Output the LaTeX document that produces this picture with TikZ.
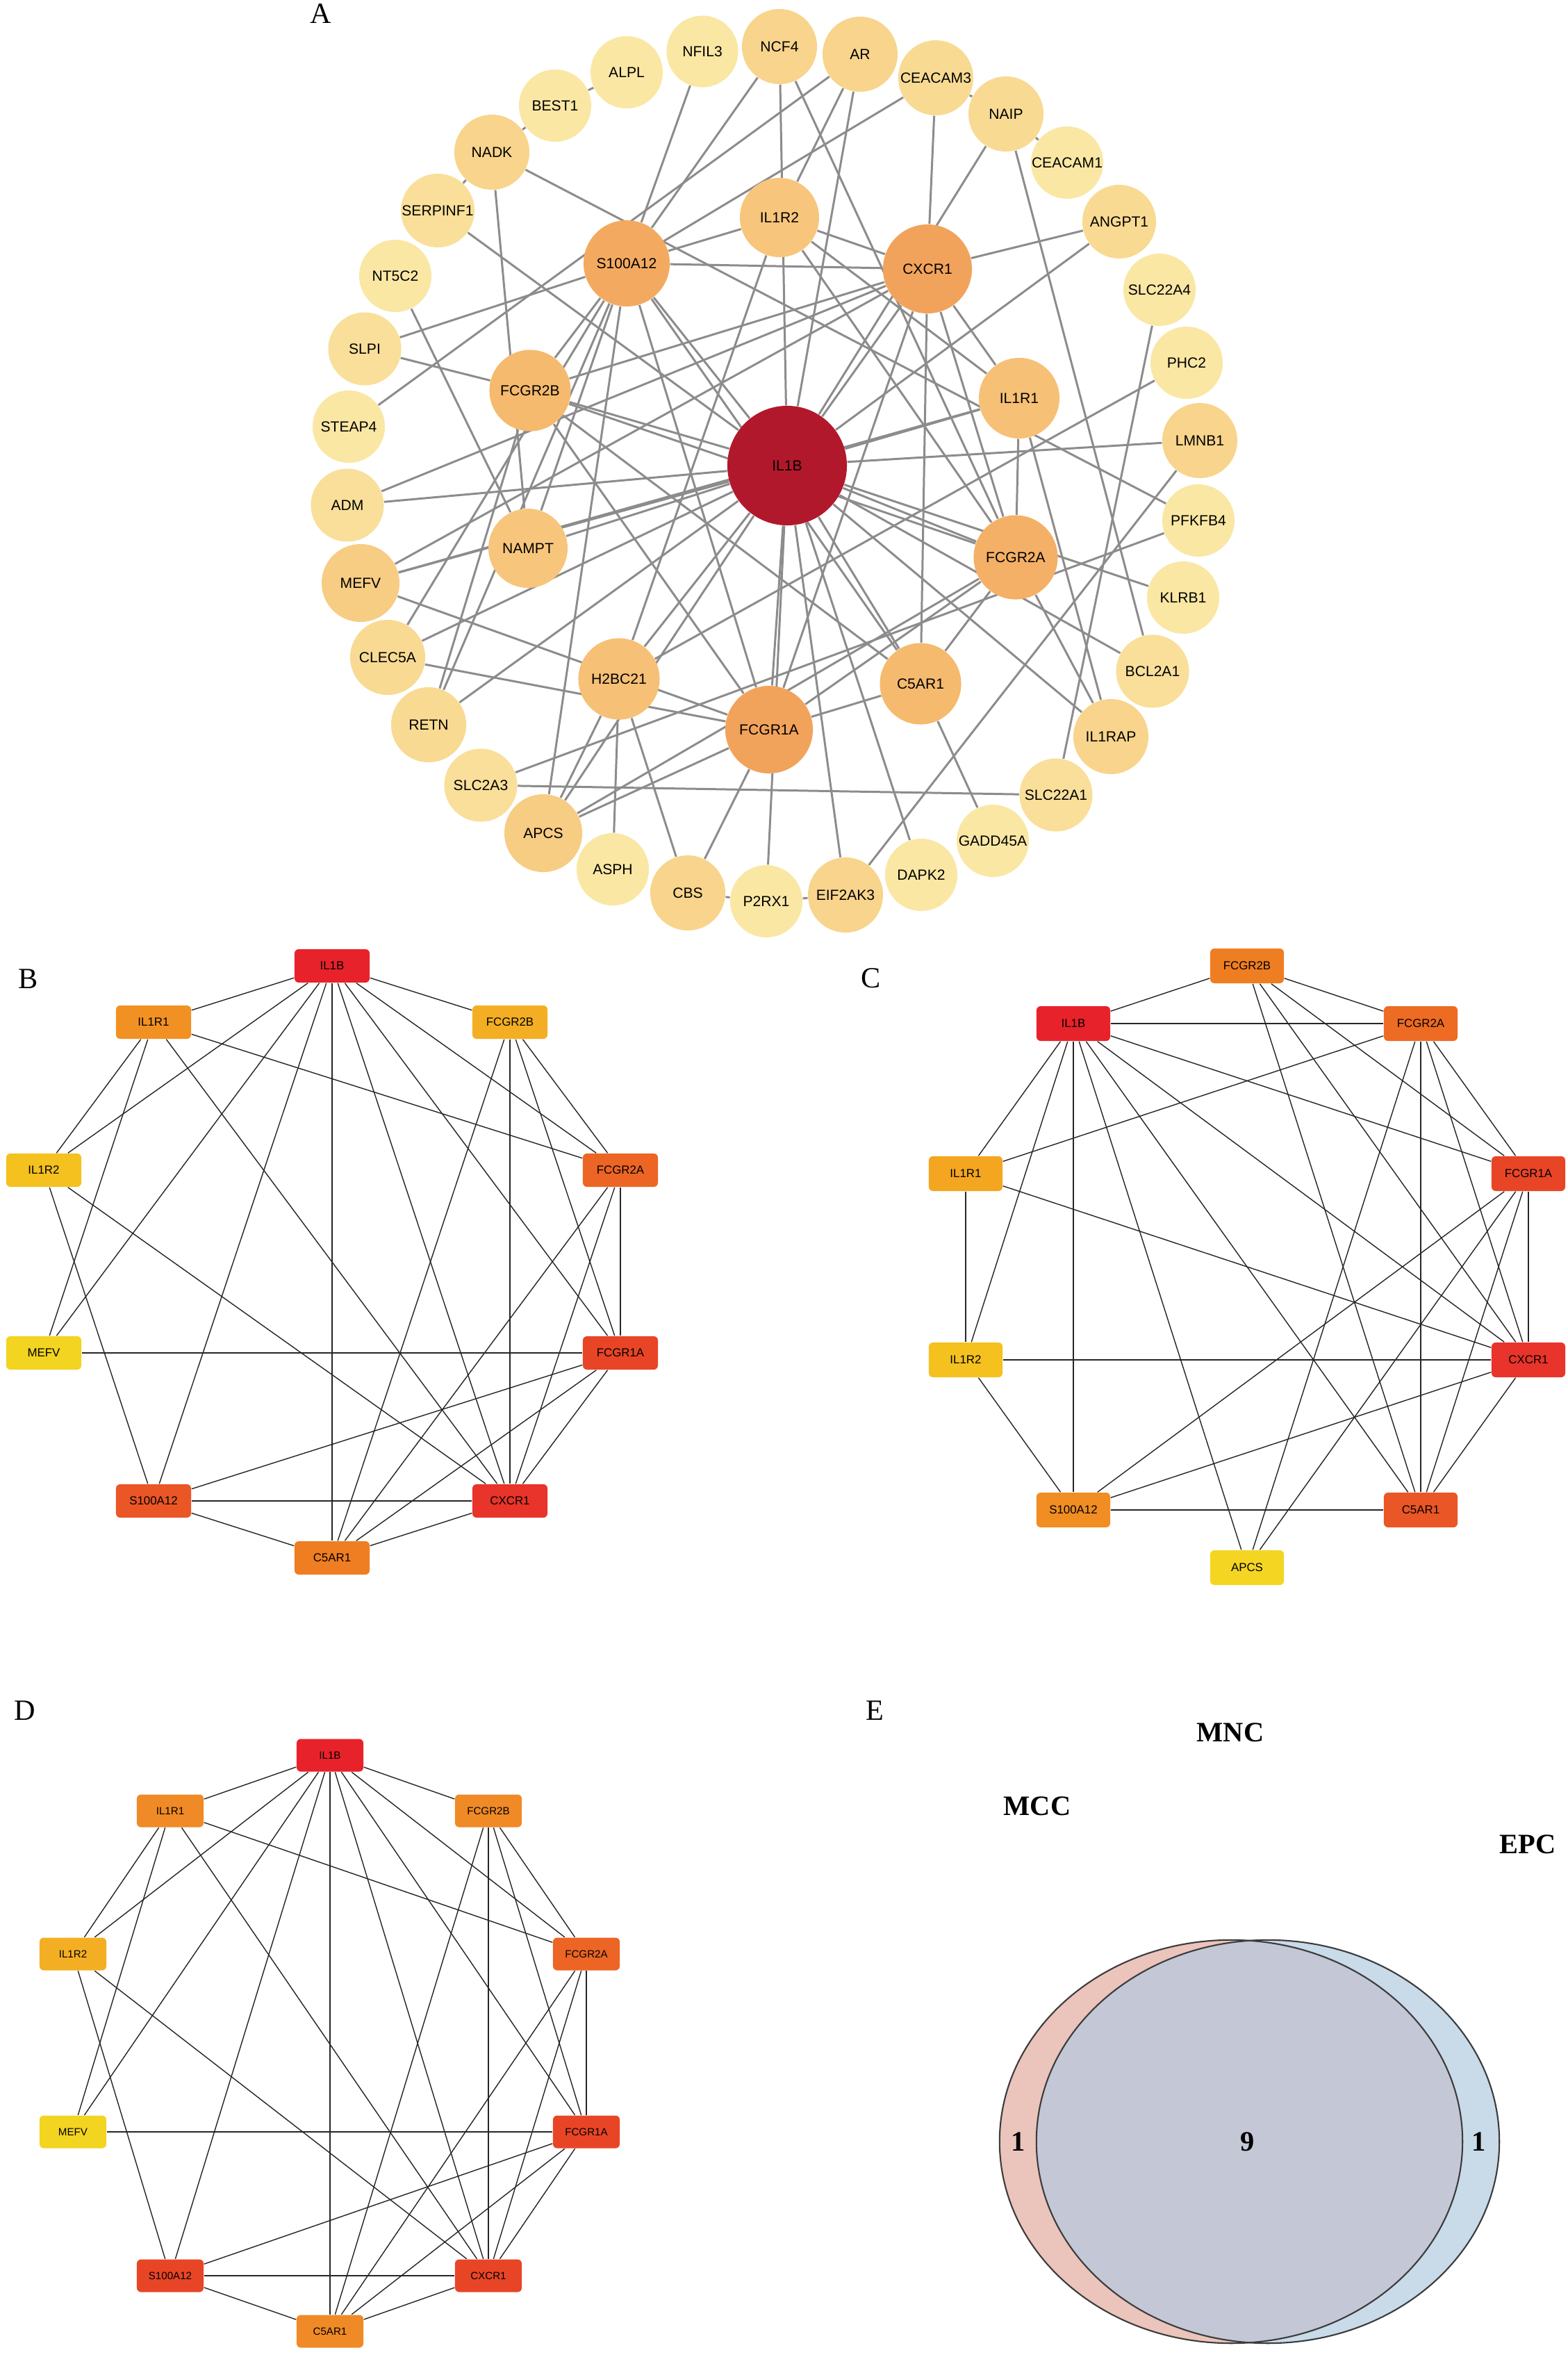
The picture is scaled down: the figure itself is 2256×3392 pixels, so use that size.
\documentclass[tikz,border=0pt]{standalone}
\usepackage{fontspec}
\setmainfont{Liberation Serif}
\newfontfamily\arial{Liberation Sans}
\pgfdeclarelayer{paper}
\pgfdeclarelayer{background}
\pgfsetlayers{paper,background,main}
\definecolor{edgegray}{HTML}{8C8C8C}
\definecolor{cHub}{HTML}{B2182B}
\definecolor{cA}{HTML}{F2A35B}
\definecolor{cB}{HTML}{F3AA60}
\definecolor{cC}{HTML}{F4B066}
\definecolor{cD}{HTML}{F5BA6E}
\definecolor{cE}{HTML}{F6C076}
\definecolor{cF}{HTML}{F7C67C}
\definecolor{cG}{HTML}{F7CC83}
\definecolor{cM}{HTML}{F8D48C}
\definecolor{cMM}{HTML}{F8DA93}
\definecolor{cML}{HTML}{F9DF9A}
\definecolor{cL}{HTML}{FAE7A4}
% box colours
\definecolor{kRed}{HTML}{E8222A}
\definecolor{kRed2}{HTML}{E8342A}
\definecolor{kRedO}{HTML}{E84527}
\definecolor{kOR1}{HTML}{EA5625}
\definecolor{kOR2}{HTML}{EC6524}
\definecolor{kOR3}{HTML}{EE6B23}
\definecolor{kOR4}{HTML}{EF7E22}
\definecolor{kOR5}{HTML}{F08A26}
\definecolor{kOR6}{HTML}{F29123}
\definecolor{kOR7}{HTML}{F18D23}
\definecolor{kYO1}{HTML}{F4A620}
\definecolor{kYO2}{HTML}{F4AE23}
\definecolor{kYO3}{HTML}{F4C11F}
\definecolor{kYel}{HTML}{F2D421}
\definecolor{kYel2}{HTML}{F4D622}
\definecolor{vred}{HTML}{EBC4BC}
\definecolor{vblue}{HTML}{C9DAE8}
\definecolor{vmid}{HTML}{C4C7D5}
\definecolor{vline}{HTML}{3C3C3C}
\tikzset{
  gn/.style 2 args={circle, inner sep=0pt, fill=#1, minimum size=#2, text=black,
    font=\arial\fontsize{6}{7}\selectfont},
  ae/.style={draw=edgegray, line width=0.85pt},
  bx/.style={rectangle, rounded corners=0.06cm, fill=#1, minimum width=1.08cm,
    minimum height=0.48cm, inner sep=0pt, text=black, font=\arial\fontsize{4.8}{5.5}\selectfont},
  cxb/.style={rectangle, rounded corners=0.06cm, fill=#1, minimum width=1.06cm,
    minimum height=0.50cm, inner sep=0pt, text=black, font=\arial\fontsize{4.8}{5.5}\selectfont},
  dxb/.style={rectangle, rounded corners=0.06cm, fill=#1, minimum width=0.96cm,
    minimum height=0.47cm, inner sep=0pt, text=black, font=\arial\fontsize{4.3}{5}\selectfont},
  be/.style={draw=black!85, line width=0.4pt},
  plabel/.style={inner sep=0pt, font=\fontsize{12}{14}\selectfont},
  vlabel/.style={inner sep=0pt, font=\bfseries\fontsize{11.5}{13}\selectfont},
}
\begin{document}
\begin{tikzpicture}[x=0.01cm,y=-0.01cm]
\useasboundingbox (0,0) rectangle (2256,3392);
\begin{pgfonlayer}{paper}
\fill[white] (0,0) rectangle (2256,3392);
\end{pgfonlayer}

% ---------------- Panel A ----------------
\node[plabel] (labA) at (462,20) {A};
\node[gn={cHub}{1.72cm}] (aIL1B) at (1133,670) {IL1B};
\node[gn={cA}{1.28cm}] (aCXCR1) at (1335,387) {CXCR1};
\node[gn={cA}{1.26cm}] (aFCGR1A) at (1107,1050) {FCGR1A};
\node[gn={cB}{1.24cm}] (aS100A12) at (902,379) {S100A12};
\node[gn={cC}{1.21cm}] (aFCGR2A) at (1462,802) {FCGR2A};
\node[gn={cD}{1.17cm}] (aFCGR2B) at (763,562) {FCGR2B};
\node[gn={cE}{1.16cm}] (aIL1R1) at (1467,573) {IL1R1};
\node[gn={cF}{1.14cm}] (aIL1R2) at (1122,313) {IL1R2};
\node[gn={cD}{1.17cm}] (aC5AR1) at (1325,984) {C5AR1};
\node[gn={cE}{1.17cm}] (aH2BC21) at (891,977) {H2BC21};
\node[gn={cF}{1.14cm}] (aNAMPT) at (760,789) {NAMPT};

\node[gn={cL}{1.03cm}] (aNFIL3) at (1011,74) {NFIL3};
\node[gn={cL}{1.04cm}] (aALPL) at (902,104) {ALPL};
\node[gn={cL}{1.04cm}] (aBEST1) at (799,152) {BEST1};
\node[gn={cM}{1.08cm}] (aNADK) at (708,219) {NADK};
\node[gn={cML}{1.06cm}] (aSERPINF1) at (630,303) {SERPINF1};
\node[gn={cL}{1.04cm}] (aNT5C2) at (569,397) {NT5C2};
\node[gn={cML}{1.05cm}] (aSLPI) at (525,502) {SLPI};
\node[gn={cL}{1.04cm}] (aSTEAP4) at (502,614) {STEAP4};
\node[gn={cML}{1.05cm}] (aADM) at (500,727) {ADM};
\node[gn={cG}{1.12cm}] (aMEFV) at (519,839) {MEFV};
\node[gn={cMM}{1.08cm}] (aCLEC5A) at (558,946) {CLEC5A};
\node[gn={cMM}{1.08cm}] (aRETN) at (617,1043) {RETN};
\node[gn={cML}{1.05cm}] (aSLC2A3) at (692,1130) {SLC2A3};
\node[gn={cG}{1.12cm}] (aAPCS) at (782,1199) {APCS};
\node[gn={cL}{1.04cm}] (aASPH) at (882,1251) {ASPH};
\node[gn={cM}{1.08cm}] (aCBS) at (990,1285) {CBS};
\node[gn={cL}{1.04cm}] (aP2RX1) at (1103,1297) {P2RX1};
\node[gn={cM}{1.08cm}] (aEIF2AK3) at (1217,1288) {EIF2AK3};
\node[gn={cL}{1.04cm}] (aDAPK2) at (1326,1259) {DAPK2};
\node[gn={cL}{1.04cm}] (aGADD45A) at (1429,1210) {GADD45A};
\node[gn={cML}{1.05cm}] (aSLC22A1) at (1520,1144) {SLC22A1};
\node[gn={cM}{1.08cm}] (aIL1RAP) at (1599,1060) {IL1RAP};
\node[gn={cML}{1.05cm}] (aBCL2A1) at (1659,966) {BCL2A1};
\node[gn={cL}{1.04cm}] (aKLRB1) at (1703,860) {KLRB1};
\node[gn={cL}{1.04cm}] (aPFKFB4) at (1725,749) {PFKFB4};
\node[gn={cM}{1.08cm}] (aLMNB1) at (1727,634) {LMNB1};
\node[gn={cL}{1.04cm}] (aPHC2) at (1708,522) {PHC2};
\node[gn={cL}{1.04cm}] (aSLC22A4) at (1669,417) {SLC22A4};
\node[gn={cMM}{1.06cm}] (aANGPT1) at (1611,319) {ANGPT1};
\node[gn={cL}{1.04cm}] (aCEACAM1) at (1536,234) {CEACAM1};
\node[gn={cMM}{1.08cm}] (aNAIP) at (1448,164) {NAIP};
\node[gn={cMM}{1.08cm}] (aCEACAM3) at (1347,112) {CEACAM3};
\node[gn={cM}{1.08cm}] (aAR) at (1238,78) {AR};
\node[gn={cM}{1.08cm}] (aNCF4) at (1122,67) {NCF4};

\begin{pgfonlayer}{background}
\foreach \u/\v in {ALPL/BEST1, BEST1/NADK, NADK/SERPINF1, NADK/PFKFB4, NADK/NAMPT,
  NFIL3/S100A12, NCF4/IL1B, NCF4/S100A12, NCF4/FCGR2A, AR/STEAP4, AR/IL1R2, AR/IL1B,
  CEACAM3/S100A12, CEACAM3/CXCR1, CEACAM3/NAIP, NAIP/CEACAM1, NAIP/IL1B, NAIP/BCL2A1,
  ANGPT1/CXCR1, ANGPT1/IL1B, SLC22A4/SLC22A1, PHC2/H2BC21, LMNB1/IL1B, LMNB1/EIF2AK3,
  PFKFB4/SLC2A3, KLRB1/IL1B, BCL2A1/IL1B, IL1RAP/IL1R1, IL1RAP/IL1B, IL1RAP/FCGR2A,
  SLC22A1/SLC2A3, GADD45A/C5AR1, DAPK2/IL1B, EIF2AK3/IL1B, EIF2AK3/P2RX1, P2RX1/IL1B,
  P2RX1/CBS, CBS/H2BC21, CBS/FCGR1A, ASPH/H2BC21, APCS/H2BC21, APCS/IL1B, APCS/FCGR2A,
  APCS/FCGR1A, APCS/S100A12, RETN/S100A12, RETN/FCGR2B, RETN/IL1B, CLEC5A/S100A12,
  CLEC5A/IL1B, CLEC5A/FCGR1A, MEFV/IL1B, MEFV/IL1R1, MEFV/FCGR1A, MEFV/CXCR1,
  ADM/IL1B, ADM/CXCR1, SLPI/S100A12, SLPI/FCGR2B, NT5C2/NAMPT, SERPINF1/IL1B,
  IL1B/IL1R1, IL1B/CXCR1, IL1B/S100A12, IL1B/FCGR1A, IL1B/FCGR2A, IL1B/FCGR2B,
  IL1B/C5AR1, IL1B/H2BC21, IL1B/NAMPT, IL1R1/IL1R2, IL1R1/CXCR1, IL1R1/FCGR2A,
  IL1R2/S100A12, IL1R2/CXCR1, IL1R2/FCGR2A, IL1R2/H2BC21, FCGR2B/FCGR2A, FCGR2B/CXCR1,
  FCGR2B/C5AR1, FCGR2B/FCGR1A, FCGR2B/S100A12, S100A12/CXCR1, S100A12/C5AR1,
  S100A12/FCGR1A, S100A12/NAMPT, CXCR1/FCGR2A, CXCR1/FCGR1A, CXCR1/C5AR1,
  FCGR2A/FCGR1A, FCGR2A/C5AR1, FCGR1A/C5AR1}
  \draw[ae] (a\u) -- (a\v);
\end{pgfonlayer}

% ---------------- Panel B ----------------
\node[plabel] (labB) at (41,1409) {B};
\node[bx=kRed] (bIL1B) at (478,1390) {IL1B};
\node[bx=kOR6] (bIL1R1) at (221,1471) {IL1R1};
\node[bx=kYO2] (bFCGR2B) at (734,1471) {FCGR2B};
\node[bx=kYO3] (bIL1R2) at (63,1684) {IL1R2};
\node[bx=kOR2] (bFCGR2A) at (893,1684) {FCGR2A};
\node[bx=kYel] (bMEFV) at (63,1947) {MEFV};
\node[bx=kRedO] (bFCGR1A) at (893,1947) {FCGR1A};
\node[bx=kOR1] (bS100A12) at (221,2160) {S100A12};
\node[bx=kRed2] (bCXCR1) at (734,2160) {CXCR1};
\node[bx=kOR4] (bC5AR1) at (478,2242) {C5AR1};

% ---------------- Panel D ----------------
\node[plabel] (labD) at (36,2462) {D};
\node[dxb=kRed] (dIL1B) at (475,2526) {IL1B};
\node[dxb=kOR5] (dIL1R1) at (245,2606) {IL1R1};
\node[dxb=kOR5] (dFCGR2B) at (703,2606) {FCGR2B};
\node[dxb=kYO2] (dIL1R2) at (105,2812) {IL1R2};
\node[dxb=kOR2] (dFCGR2A) at (844,2812) {FCGR2A};
\node[dxb=kYel] (dMEFV) at (105,3068) {MEFV};
\node[dxb=kRedO] (dFCGR1A) at (844,3068) {FCGR1A};
\node[dxb=kRedO] (dS100A12) at (245,3275) {S100A12};
\node[dxb=kRedO] (dCXCR1) at (703,3275) {CXCR1};
\node[dxb=kOR5] (dC5AR1) at (475,3355) {C5AR1};

\begin{pgfonlayer}{background}
\foreach \p in {b,d}{
\foreach \u/\v in {IL1B/IL1R1, IL1B/FCGR2B, IL1B/IL1R2, IL1B/MEFV, IL1B/S100A12,
  IL1B/C5AR1, IL1B/CXCR1, IL1B/FCGR1A, IL1B/FCGR2A,
  IL1R1/IL1R2, IL1R1/MEFV, IL1R1/CXCR1, IL1R1/FCGR2A,
  FCGR2B/C5AR1, FCGR2B/CXCR1, FCGR2B/FCGR1A, FCGR2B/FCGR2A,
  IL1R2/S100A12, IL1R2/CXCR1,
  FCGR2A/FCGR1A, FCGR2A/C5AR1, FCGR2A/CXCR1,
  FCGR1A/MEFV, FCGR1A/S100A12, FCGR1A/C5AR1, FCGR1A/CXCR1,
  S100A12/CXCR1, S100A12/C5AR1, CXCR1/C5AR1}
  \draw[be] (\p\u) -- (\p\v);
}
\end{pgfonlayer}

% ---------------- Panel C ----------------
\node[plabel] (labC) at (1254,1408) {C};
\node[cxb=kOR4] (cFCGR2B) at (1795,1390) {FCGR2B};
\node[cxb=kRed] (cIL1B) at (1545,1473) {IL1B};
\node[cxb=kOR3] (cFCGR2A) at (2045,1473) {FCGR2A};
\node[cxb=kYO1] (cIL1R1) at (1390,1689) {IL1R1};
\node[cxb=kRedO] (cFCGR1A) at (2200,1689) {FCGR1A};
\node[cxb=kYO3] (cIL1R2) at (1390,1957) {IL1R2};
\node[cxb=kRed2] (cCXCR1) at (2200,1957) {CXCR1};
\node[cxb=kOR7] (cS100A12) at (1545,2173) {S100A12};
\node[cxb=kOR1] (cC5AR1) at (2045,2173) {C5AR1};
\node[cxb=kYel2] (cAPCS) at (1795,2256) {APCS};

\begin{pgfonlayer}{background}
\foreach \u/\v in {FCGR2B/IL1B, FCGR2B/FCGR2A, FCGR2B/C5AR1, FCGR2B/CXCR1, FCGR2B/FCGR1A,
  IL1B/FCGR2A, IL1B/FCGR1A, IL1B/IL1R1, IL1B/IL1R2, IL1B/S100A12, IL1B/APCS, IL1B/C5AR1,
  IL1B/CXCR1, FCGR2A/IL1R1, FCGR2A/APCS, FCGR2A/C5AR1, FCGR2A/CXCR1, FCGR2A/FCGR1A,
  IL1R1/IL1R2, IL1R1/CXCR1, FCGR1A/CXCR1, FCGR1A/S100A12, FCGR1A/APCS, FCGR1A/C5AR1,
  IL1R2/CXCR1, IL1R2/S100A12, CXCR1/S100A12, CXCR1/C5AR1, S100A12/C5AR1}
  \draw[be] (c\u) -- (c\v);
\end{pgfonlayer}

% ---------------- Panel E ----------------
\node[plabel] (labE) at (1259,2462) {E};
\node[vlabel] (lMNC) at (1771,2493) {MNC};
\node[vlabel] (lMCC) at (1493,2599) {MCC};
\node[vlabel] (lEPC) at (2199,2654) {EPC};
\fill[vred] (1772,3082) ellipse [x radius=3.33cm, y radius=2.90cm];
\fill[vblue] (1825,3082) ellipse [x radius=3.33cm, y radius=2.90cm];
\begin{scope}
  \clip (1772,3082) ellipse [x radius=3.33cm, y radius=2.90cm];
  \fill[vmid] (1825,3082) ellipse [x radius=3.33cm, y radius=2.90cm];
\end{scope}
\draw[vline, line width=0.6pt] (1772,3082) ellipse [x radius=3.33cm, y radius=2.90cm];
\draw[vline, line width=0.6pt] (1825,3082) ellipse [x radius=3.33cm, y radius=2.90cm];
\node[vlabel] (n1a) at (1466,3082) {1};
\node[vlabel] (n9) at (1796,3082) {9};
\node[vlabel] (n1b) at (2129,3082) {1};
\end{tikzpicture}
\end{document}
